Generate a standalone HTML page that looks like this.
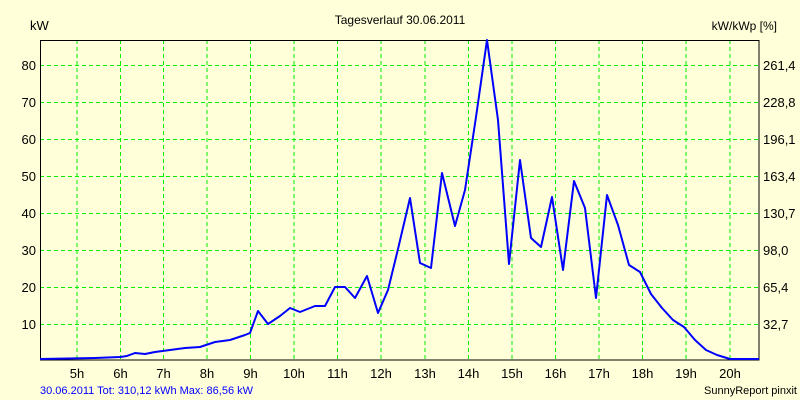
<!DOCTYPE html>
<html><head><style>
body{margin:0;background:#ffffd9;}
svg{display:block;font-family:"Liberation Sans",sans-serif;}
</style></head><body>
<svg width="800" height="400" viewBox="0 0 800 400">
<rect width="800" height="400" fill="#ffffd9"/>
<g stroke="#00ee00" stroke-width="1" stroke-dasharray="4,3">
<line x1="77" y1="40" x2="77" y2="360"/><line x1="120.5" y1="40" x2="120.5" y2="360"/><line x1="163.5" y1="40" x2="163.5" y2="360"/><line x1="207" y1="40" x2="207" y2="360"/><line x1="250.5" y1="40" x2="250.5" y2="360"/><line x1="294" y1="40" x2="294" y2="360"/><line x1="337.5" y1="40" x2="337.5" y2="360"/><line x1="381" y1="40" x2="381" y2="360"/><line x1="425" y1="40" x2="425" y2="360"/><line x1="468.5" y1="40" x2="468.5" y2="360"/><line x1="512" y1="40" x2="512" y2="360"/><line x1="555.5" y1="40" x2="555.5" y2="360"/><line x1="599" y1="40" x2="599" y2="360"/><line x1="642.5" y1="40" x2="642.5" y2="360"/><line x1="686" y1="40" x2="686" y2="360"/><line x1="730" y1="40" x2="730" y2="360"/>
<line x1="40" y1="324.5" x2="759" y2="324.5"/><line x1="40" y1="287.5" x2="759" y2="287.5"/><line x1="40" y1="250.5" x2="759" y2="250.5"/><line x1="40" y1="213.5" x2="759" y2="213.5"/><line x1="40" y1="176.5" x2="759" y2="176.5"/><line x1="40" y1="139.5" x2="759" y2="139.5"/><line x1="40" y1="102.5" x2="759" y2="102.5"/><line x1="40" y1="65.5" x2="759" y2="65.5"/>
</g>
<rect x="40.5" y="40.5" width="718.5" height="319.5" fill="none" stroke="#000" stroke-width="1"/>
<polyline fill="none" stroke="#0000ff" stroke-width="2" stroke-linejoin="round" points="40,359 95,358 120,357 127,356 135,353 145,354 155,352 170,350 185,348 200,347 215,342 230,340 245,335 250,333 258,311 268,324 280,316 290,308 300,312 315,306 325,306 335,287 345,287 355,298 367,276 378,313 388,290 398,249 410,198 420,263 431,268 442,173 455,226 465,190 476,117 487,40 498,120 509,264 520,160 531,238 541,247 552,197 563,270 574,181 585,208 596,298 607,195 618,225 629,265 640,272 651,294 662,308 673,320 684,327 695,340 706,350 717,355 730,359 759,359"/>
<g font-size="13" fill="#000">
<text x="400" y="24" text-anchor="middle" font-size="12">Tagesverlauf 30.06.2011</text>
<text x="30" y="30">kW</text>
<text x="777" y="30" text-anchor="end" font-size="12">kW/kWp [%]</text>
<g text-anchor="end"><text x="36" y="329">10</text><text x="36" y="292">20</text><text x="36" y="255">30</text><text x="36" y="218">40</text><text x="36" y="181">50</text><text x="36" y="144">60</text><text x="36" y="107">70</text><text x="36" y="70">80</text></g>
<g><text x="763" y="329">32,7</text><text x="763" y="292">65,4</text><text x="763" y="255">98,0</text><text x="763" y="218">130,7</text><text x="763" y="181">163,4</text><text x="763" y="144">196,1</text><text x="763" y="107">228,8</text><text x="763" y="70">261,4</text></g>
<g text-anchor="middle"><text x="77" y="378">5h</text><text x="120.5" y="378">6h</text><text x="163.5" y="378">7h</text><text x="207" y="378">8h</text><text x="250.5" y="378">9h</text><text x="294" y="378">10h</text><text x="337.5" y="378">11h</text><text x="381" y="378">12h</text><text x="425" y="378">13h</text><text x="468.5" y="378">14h</text><text x="512" y="378">15h</text><text x="555.5" y="378">16h</text><text x="599" y="378">17h</text><text x="642.5" y="378">18h</text><text x="686" y="378">19h</text><text x="730" y="378">20h</text></g>
<text x="40" y="394" font-size="11" fill="#0000ff">30.06.2011 Tot: 310,12 kWh Max: 86,56 kW</text>
<text x="797" y="394" font-size="11" text-anchor="end">SunnyReport pinxit</text>
</g>
</svg>
</body></html>
